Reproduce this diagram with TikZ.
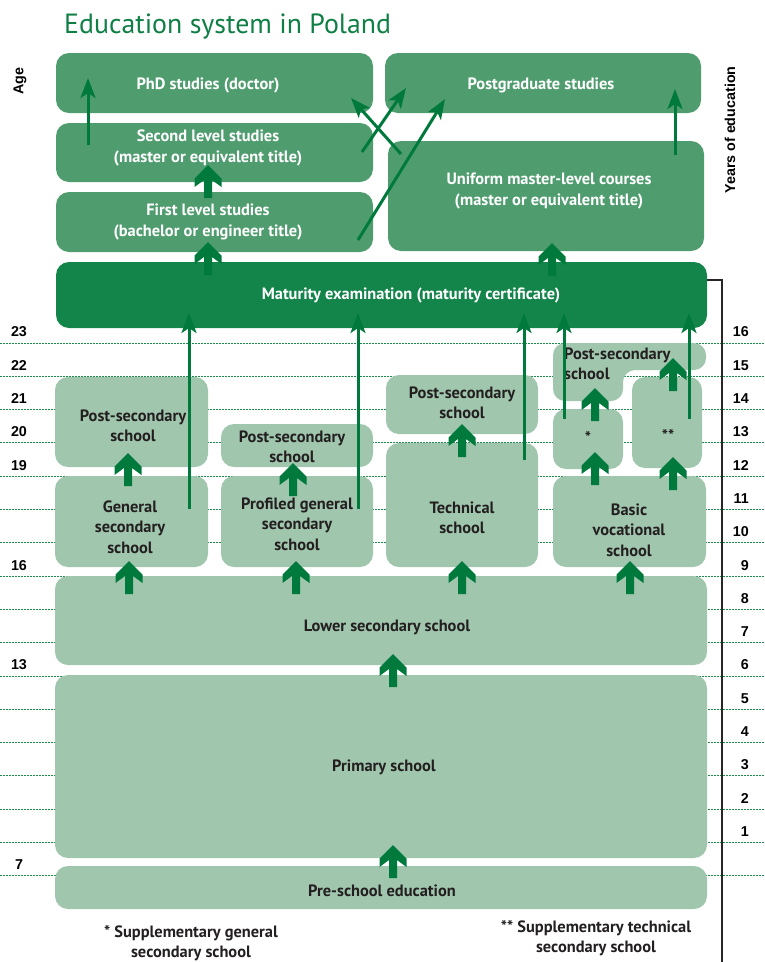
\documentclass[tikz,border=0pt]{standalone}
\usepackage{fontspec}
\setmainfont{PT Sans}
\newfontfamily\arialf{Liberation Sans}
\usetikzlibrary{arrows.meta}
\definecolor{boxlight}{HTML}{A0C6AD}
\definecolor{boxmed}{HTML}{4F9D6F}
\definecolor{boxdark}{HTML}{13844A}
\definecolor{arrowc}{HTML}{007A3C}
\definecolor{titlec}{HTML}{0F7F45}
\definecolor{txtc}{HTML}{231F20}
\definecolor{dashc}{HTML}{1B8A4A}
\newcommand\mkbox[6]{\node[#2, minimum width={(#5)-(#3)}, minimum height={(#6)-(#4)}] (#1) at ({((#3)+(#5))/2},{((#4)+(#6))/2}) {};}
\newcommand\bigup[2]{\fill[arrowc] (#1,#2) -- ++(13.5,13.5) -- ++(0,8.5) -- ++(-9.5,-7) -- ++(0,18) -- ++(-8,0) -- ++(0,-18) -- ++(-9.5,7) -- ++(0,-8.5) -- cycle;}
\tikzset{
  lbox/.style={fill=boxlight, rounded corners=13pt, inner sep=0pt, draw=none},
  mbox/.style={fill=boxmed, rounded corners=13pt, inner sep=0pt, draw=none},
  dbox/.style={fill=boxdark, rounded corners=13pt, inner sep=0pt, draw=none},
  ltext/.style={font=\bfseries\fontsize{16.4}{20.5}\selectfont, text=txtc, align=center, inner sep=0pt},
  wtext/.style={font=\bfseries\fontsize{16.4}{20.5}\selectfont, text=white, align=center, inner sep=0pt},
  numlab/.style={font=\arialf\bfseries\fontsize{14.3}{14.3}\selectfont, text=black, inner sep=0pt},
  dashline/.style={draw=dashc, line width=0.9pt, dash pattern=on 2pt off 1pt},
  thinarrow/.style={draw=arrowc, line width=3pt, -{Stealth[length=20pt, width=15pt, inset=5pt]}},
}
\begin{document}
\begin{tikzpicture}[x=1pt,y=-1pt]
\useasboundingbox (0,0) rectangle (765,962);
% dashed grid lines
\foreach \k in {0,...,16} \draw[dashline] (0,{343+33.3*\k}) -- (765,{343+33.3*\k});
% age labels
\foreach \a/\k in {23/0,22/1,21/2,20/3,19/4,16/7,13/10,7/16}
  \node[numlab] at (19,{332+33.3*\k}) {\a};
% years labels
\foreach \k in {0,...,15} {
  \pgfmathtruncatemacro\yr{16-\k}
  \node[numlab, anchor=east] at (749,{332+33.3*\k}) {\yr};
}
\node[numlab, rotate=90] (agelab) at (20,81) {Age};
\node[numlab, rotate=90] (yearslab) at (730,130) {Years of education};
% side bracket line
\draw[line width=1.3pt, draw=black!85] (707,280) -- (722,280) -- (722,962);
% title
\node[anchor=base west, inner sep=0pt, text=titlec, font=\fontsize{27.8}{28}\selectfont] (title) at (64,33) {Education system in Poland};
% boxes
\mkbox{phd}{mbox}{56}{53}{373}{113}
\mkbox{pg}{mbox}{385}{53}{701}{113}
\mkbox{sec}{mbox}{56}{123}{373}{182}
\mkbox{first}{mbox}{56}{192}{373}{252}
\mkbox{uni}{mbox}{388}{141}{704}{251}
\mkbox{mat}{dbox}{56}{262}{707}{328}
\mkbox{psa}{lbox}{55}{377}{208}{467}
\mkbox{gen}{lbox}{55}{476}{208}{567}
\mkbox{psb}{lbox}{221}{424}{373}{467}
\mkbox{prof}{lbox}{221}{476}{373}{567}
\mkbox{psc}{lbox}{386}{375}{538}{434}
\mkbox{tech}{lbox}{386}{443}{538}{567}
\mkbox{star}{lbox}{553}{409}{623}{469}
\mkbox{dstar}{lbox}{632}{377}{702}{468}
\mkbox{bv}{lbox}{553}{476}{706}{567}
\mkbox{lower}{lbox}{55}{576}{707}{665}
\mkbox{prim}{lbox}{55}{675}{707}{858}
\mkbox{pre}{lbox}{55}{866}{707}{909}
\fill[boxlight, rounded corners=12pt] (553,343) -- (706,343) -- (706,370) -- (623,370) -- (623,401) -- (553,401) -- cycle;
\coordinate (psd) at (588,372);
% texts
\node[wtext] at (208,85) {PhD studies (doctor)};
\node[wtext] at (541,85) {Postgraduate studies};
\node[wtext] at (208,148) {Second level studies\\(master or equivalent title)};
\node[wtext] at (208,222) {First level studies\\(bachelor or engineer title)};
\node[wtext] at (549,191) {Uniform master-level courses\\(master or equivalent title)};
\node[wtext] at (411,295) {Maturity examination (maturity certificate)};
\node[ltext] at (133,426) {Post-secondary\\school};
\node[ltext] at (130,527) {General\\secondary\\school};
\node[ltext] at (292,447) {Post-secondary\\school};
\node[ltext] at (297,524) {Profiled general\\secondary\\school};
\node[ltext] at (462,403) {Post-secondary\\school};
\node[ltext] at (462,518) {Technical\\school};
\node[ltext, align=left, anchor=west] at (564,364) {Post-secondary\\school};
\node[ltext] at (588,437) {*};
\node[ltext] at (668,435) {**};
\node[ltext] at (629,530) {Basic\\vocational\\school};
\node[ltext] at (387,627) {Lower secondary school};
\node[ltext] at (384,767) {Primary school};
\node[ltext] at (382,891) {Pre-school education};
\node[ltext] (noteA) at (191,943) {* Supplementary general\\secondary school};
\node[ltext] (noteB) at (596,938) {** Supplementary technical\\secondary school};
% thick arrows
\bigup{208}{165}
\bigup{208}{242}
\bigup{552}{243}
\bigup{128}{453}
\bigup{293}{463}
\bigup{462}{424}
\bigup{595}{388}
\bigup{595}{452}
\bigup{673}{457}
\bigup{673}{358}
\bigup{129}{561}
\bigup{296}{561}
\bigup{462}{561}
\bigup{630}{561}
\bigup{393}{654}
\bigup{393}{845}
% thin arrows
\coordinate (g0) at (189,509); \coordinate (g1) at (189,313);
\coordinate (p0) at (358,509); \coordinate (p1) at (358,313);
\coordinate (t0) at (524,460); \coordinate (t1) at (524,313);
\coordinate (s0) at (564,419); \coordinate (s1) at (564,313);
\coordinate (d0) at (689,419); \coordinate (d1) at (689,313);
\coordinate (a0) at (88,145); \coordinate (a1) at (88,78);
\coordinate (u0) at (675,155); \coordinate (u1) at (675,89);
\coordinate (c0) at (362,152); \coordinate (c1) at (406,88);
\coordinate (e0) at (401,154); \coordinate (e1) at (351,98);
\coordinate (f0) at (358,240); \coordinate (f1) at (445,99);
\foreach \s/\e in {g0/g1,p0/p1,t0/t1,s0/s1,d0/d1,a0/a1,u0/u1,c0/c1,e0/e1,f0/f1}
  \draw[thinarrow] (\s) -- (\e);
\end{tikzpicture}
\end{document}
